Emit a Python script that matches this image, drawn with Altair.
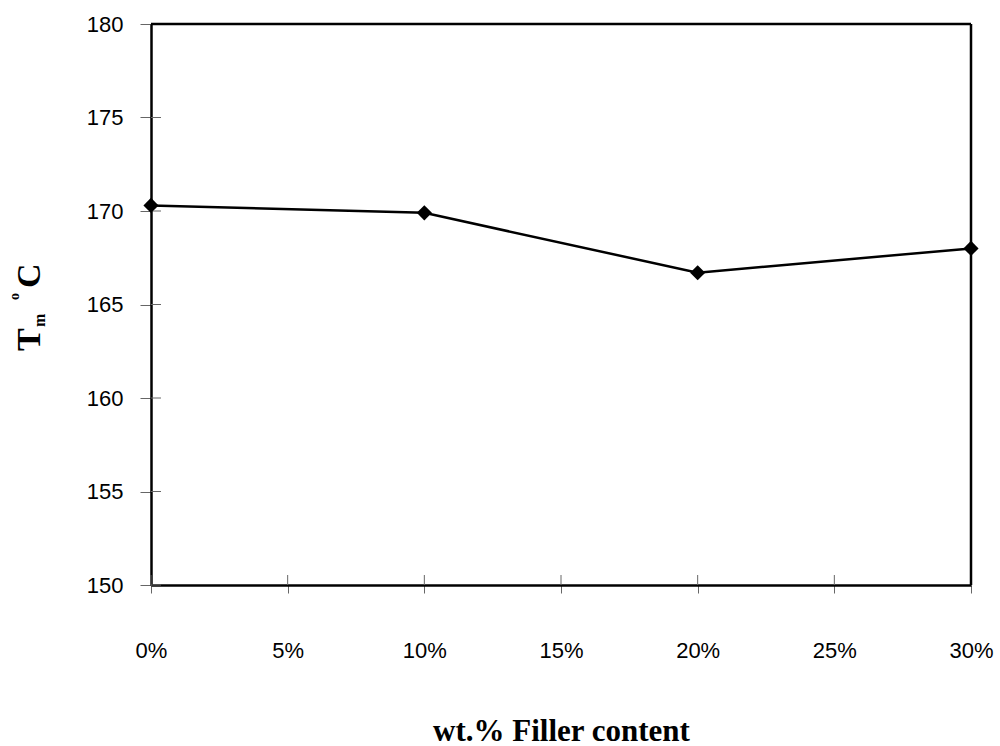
import altair as alt
import pandas as pd

# Melting temperature versus filler loading
filler_fraction = [0.0, 0.10, 0.20, 0.30]
tm_values = [170.3, 169.9, 166.7, 168.0]

x_tick_values = [0.0, 0.05, 0.10, 0.15, 0.20, 0.25, 0.30]
y_tick_values = [150, 155, 160, 165, 170, 175, 180]

W, H = 820, 561

df = pd.DataFrame({"filler": filler_fraction, "tm": tm_values})
xticks_df = pd.DataFrame({"t": x_tick_values})
yticks_df = pd.DataFrame({"t": y_tick_values})

x_scale = alt.Scale(domain=[0, 0.30], nice=False, zero=False)
y_scale = alt.Scale(domain=[150, 180], nice=False, zero=False)

x_axis = alt.Axis(
    values=x_tick_values, format=".0%", title="wt.% Filler content",
    grid=False, domainColor="black", domainWidth=2.5,
    tickColor="#666", tickWidth=1, tickSize=8,
    labelFont="Liberation Sans", labelFontSize=22, labelColor="black",
    labelBaseline="alphabetic", labelPadding=64, labelFlush=False,
    titleFont="Liberation Serif", titleFontSize=31, titleFontWeight="bold",
    titleColor="black", titleY=155, titleBaseline="alphabetic",
)
y_axis = alt.Axis(
    values=y_tick_values, title=None,
    grid=False, domainColor="black", domainWidth=2.5,
    tickColor="#666", tickWidth=1, tickSize=11,
    labelFont="Liberation Sans", labelFontSize=22, labelColor="black",
    labelPadding=17, labelFlush=False,
)

line = alt.Chart(df).mark_line(color="black", strokeWidth=2.5).encode(
    x=alt.X("filler:Q", scale=x_scale, axis=x_axis),
    y=alt.Y("tm:Q", scale=y_scale, axis=y_axis),
)
points = alt.Chart(df).mark_point(
    shape="diamond", filled=True, color="black", size=230, opacity=1
).encode(
    x=alt.X("filler:Q", scale=x_scale),
    y=alt.Y("tm:Q", scale=y_scale),
)

# inner halves of the tick marks, crossing the axis lines
x_inner = alt.Chart(xticks_df).mark_rule(color="#666", strokeWidth=1).encode(
    x=alt.X("t:Q", scale=x_scale),
    y=alt.value(H - 10), y2=alt.value(H),
)
y_inner = alt.Chart(yticks_df).mark_rule(color="#666", strokeWidth=1).encode(
    y=alt.Y("t:Q", scale=y_scale),
    x=alt.value(0), x2=alt.value(10),
)

# top and right frame lines
frame_top = alt.Chart(alt.Data(values=[{}])).mark_rule(
    color="black", strokeWidth=2.5
).encode(x=alt.value(0), x2=alt.value(W), y=alt.value(0))
frame_right = alt.Chart(alt.Data(values=[{}])).mark_rule(
    color="black", strokeWidth=2.5
).encode(x=alt.value(W), y=alt.value(0), y2=alt.value(H))

# rotated y-axis title: T_m ^o C
def title_part(text, size, xpos, ypos):
    return alt.Chart(alt.Data(values=[{}])).mark_text(
        text=text, font="Liberation Serif", fontWeight="bold", fontSize=size,
        angle=270, align="left", baseline="alphabetic", color="black",
    ).encode(x=alt.value(xpos), y=alt.value(ypos))

y_title = (
    title_part("T", 34, -111, 327)
    + title_part("m", 16, -106, 303)
    + title_part("o", 14, -132, 276)
    + title_part("C", 34, -111, 264)
)

chart = (
    alt.layer(x_inner, y_inner, frame_top, frame_right, line, points, y_title)
    .properties(
        width=W, height=H,
        autosize=alt.AutoSizeParams(type="none"),
        padding={"left": 151, "top": 24, "right": 29, "bottom": 161},
    )
    .configure_view(stroke=None)
    .configure(background="white")
)

chart.save("out.html", embed_options={"renderer": "svg", "actions": False})
